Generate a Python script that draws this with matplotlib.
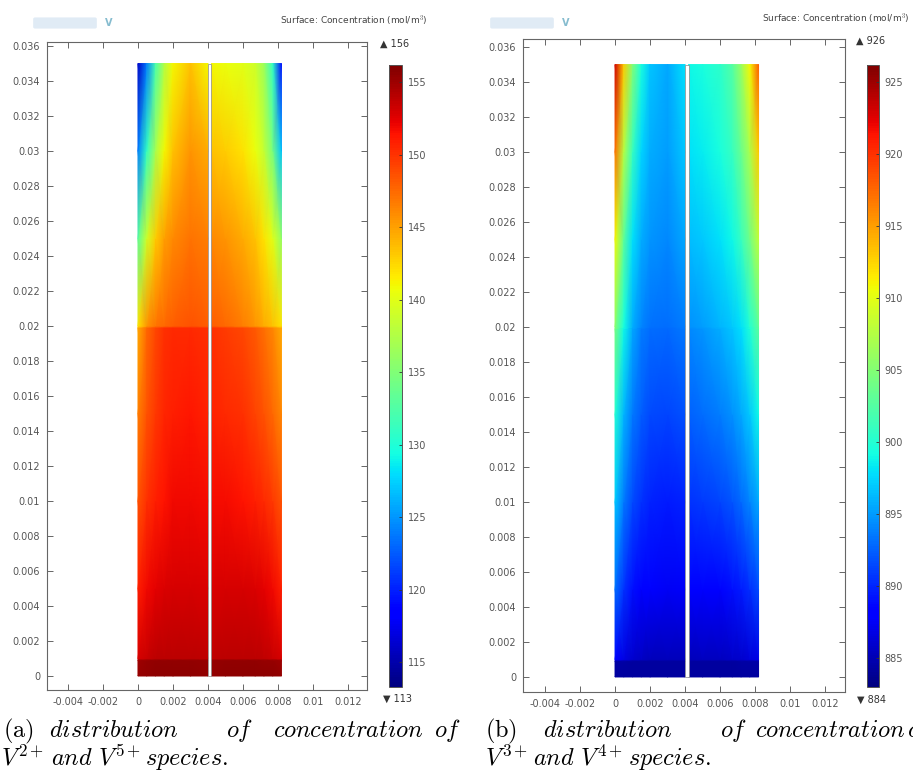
import numpy as np
import matplotlib.pyplot as plt
from matplotlib.colors import Normalize
from matplotlib.patches import Rectangle, FancyBboxPatch
from matplotlib.ticker import FixedLocator, FuncFormatter

plt.rcParams['mathtext.fontset'] = 'cm'

# node positions of the two channels (m), membrane between them
x_left_ch = [0.0, 0.0005, 0.001, 0.0015, 0.002, 0.003, 0.004]
x_right_ch = [0.0042, 0.005, 0.006, 0.0067, 0.0072, 0.0077, 0.0082]
y_nodes = [0.0, 0.0009, 0.001, 0.005, 0.01, 0.015, 0.0199, 0.02, 0.025, 0.03, 0.035]

# (a) V2+ / V5+ concentration, rows follow y_nodes (bottom -> top)
conc_a_left = [
    [155.3, 155.5, 155.6, 155.6, 155.6, 155.6, 155.4],
    [155.0, 155.2, 155.4, 155.4, 155.4, 155.4, 155.2],
    [153.0, 153.5, 154.0, 154.0, 154.0, 154.0, 153.8],
    [151.0, 152.0, 152.5, 152.8, 153.0, 153.0, 152.8],
    [148.5, 150.0, 151.0, 151.5, 152.0, 152.0, 151.8],
    [146.5, 148.5, 149.8, 150.6, 151.0, 151.2, 150.8],
    [144.5, 147.5, 149.0, 150.0, 150.5, 150.5, 150.0],
    [142.0, 145.5, 147.0, 147.5, 148.0, 148.5, 148.0],
    [133.0, 139.0, 143.0, 145.0, 146.0, 147.0, 146.5],
    [124.0, 131.0, 137.0, 141.0, 143.5, 145.5, 144.5],
    [116.0, 124.0, 132.0, 137.5, 141.0, 143.5, 141.0],
]
conc_a_right = [
    [155.4, 155.6, 155.6, 155.6, 155.6, 155.6, 155.5],
    [155.2, 155.4, 155.4, 155.4, 155.3, 155.2, 155.0],
    [153.8, 154.0, 154.0, 154.0, 153.8, 153.5, 153.0],
    [152.8, 153.0, 153.0, 152.8, 152.5, 152.0, 151.0],
    [151.8, 151.8, 151.5, 151.0, 150.5, 149.8, 148.5],
    [150.8, 150.5, 150.0, 149.3, 148.6, 147.6, 146.3],
    [150.0, 149.5, 149.0, 148.2, 147.3, 146.2, 144.5],
    [148.0, 147.5, 146.5, 145.5, 144.5, 143.5, 142.0],
    [146.0, 145.5, 144.5, 143.5, 142.0, 140.0, 136.0],
    [143.5, 143.0, 142.0, 140.5, 138.5, 134.5, 127.0],
    [141.0, 140.5, 140.0, 139.0, 136.5, 131.0, 119.0],
]

# (b) V3+ / V4+ concentration
conc_b_left = [
    [884.2, 884.2, 884.2, 884.2, 884.2, 884.2, 884.2],
    [884.5, 884.4, 884.3, 884.3, 884.3, 884.3, 884.3],
    [888.0, 886.8, 886.0, 885.6, 885.3, 885.2, 885.3],
    [893.0, 890.5, 889.0, 888.3, 887.8, 887.5, 887.7],
    [897.0, 893.5, 891.5, 890.5, 889.8, 889.5, 889.8],
    [900.0, 896.0, 893.5, 892.3, 891.6, 891.3, 891.8],
    [904.5, 899.0, 895.5, 893.8, 893.0, 892.8, 893.5],
    [905.0, 899.3, 895.7, 894.0, 893.2, 893.0, 893.7],
    [911.0, 903.0, 898.0, 895.8, 894.7, 894.2, 895.5],
    [917.0, 907.5, 901.0, 897.5, 895.8, 895.0, 897.0],
    [923.0, 913.0, 905.0, 899.5, 896.8, 895.5, 898.0],
]
conc_b_right = [
    [884.2, 884.2, 884.2, 884.2, 884.2, 884.2, 884.2],
    [884.3, 884.3, 884.3, 884.3, 884.4, 884.5, 884.6],
    [885.3, 885.4, 885.5, 885.7, 886.0, 886.5, 887.0],
    [888.0, 888.2, 888.5, 889.0, 889.5, 890.3, 891.5],
    [890.5, 890.8, 891.3, 892.0, 892.8, 894.0, 895.5],
    [892.5, 893.0, 893.8, 894.5, 895.5, 897.0, 899.0],
    [894.3, 894.8, 895.8, 896.8, 897.8, 899.8, 902.8],
    [894.5, 895.0, 896.0, 897.0, 898.0, 900.0, 903.0],
    [896.5, 897.0, 898.0, 899.0, 901.0, 904.0, 908.0],
    [898.0, 898.5, 899.5, 901.0, 903.5, 907.0, 913.0],
    [899.0, 899.5, 900.5, 902.5, 906.0, 911.0, 918.0],
]

range_a = (113.3, 156.2)
range_b = (883.0, 926.2)
cbar_ticks_a = [115, 120, 125, 130, 135, 140, 145, 150, 155]
cbar_ticks_b = [885, 890, 895, 900, 905, 910, 915, 920, 925]
max_min_a = ('156', '113')
max_min_b = ('926', '884')

x_ticks = [-0.004, -0.002, 0.0, 0.002, 0.004, 0.006, 0.008, 0.01, 0.012]
y_ticks = [0.0, 0.002, 0.004, 0.006, 0.008, 0.01, 0.012, 0.014, 0.016, 0.018,
           0.02, 0.022, 0.024, 0.026, 0.028, 0.03, 0.032, 0.034, 0.036]

caption_a = [
    [(3, 737, r'$\mathrm{(a)}$'), (49, 737, r'$\mathit{distribution}$'),
     (226, 737, r'$\mathit{of}$'), (273, 737, r'$\mathit{concentration}$'),
     (434, 737, r'$\mathit{of}$')],
    [(1, 765, r'$V^{2+}$'), (51, 765, r'$\mathit{and}\ V^{5+}$'),
     (145, 765, r'$\mathit{species.}$')],
]
caption_b = [
    [(485, 737, r'$\mathrm{(b)}$'), (543, 737, r'$\mathit{distribution}$'),
     (720, 737, r'$\mathit{of}$'), (755, 737, r'$\mathit{concentration}$'),
     (907, 737, r'$\mathit{of}$')],
    [(485, 765, r'$V^{3+}$'), (533, 765, r'$\mathit{and}\ V^{4+}$'),
     (628, 765, r'$\mathit{species.}$')],
]

W, H = 913, 780
fig = plt.figure(figsize=(W / 100, H / 100), dpi=100)


def px_rect(x0, y0, x1, y1):
    return [x0 / W, 1 - y1 / H, (x1 - x0) / W, (y1 - y0) / H]


tick_grey = '#555555'


def draw_panel(ax_box, cb_box, xlim, ylim, left, right, vrange, cticks,
               maxmin, title_xy, maxmin_xy, smear_x):
    ax = fig.add_axes(px_rect(*ax_box))
    norm = Normalize(*vrange)
    X, Y = np.meshgrid(x_left_ch, y_nodes)
    m = ax.pcolormesh(X, Y, np.array(left), shading='gouraud', cmap='jet', norm=norm)
    X, Y = np.meshgrid(x_right_ch, y_nodes)
    ax.pcolormesh(X, Y, np.array(right), shading='gouraud', cmap='jet', norm=norm)
    # membrane
    ax.add_patch(Rectangle((x_left_ch[-1], 0), x_right_ch[0] - x_left_ch[-1],
                           y_nodes[-1], facecolor='white', edgecolor='#888888', lw=0.5))
    ax.set_xlim(*xlim)
    ax.set_ylim(*ylim)
    ax.xaxis.set_major_locator(FixedLocator(x_ticks))
    ax.yaxis.set_major_locator(FixedLocator(y_ticks))
    fmt = FuncFormatter(lambda v, p: '%g' % round(v, 4))
    ax.xaxis.set_major_formatter(fmt)
    ax.yaxis.set_major_formatter(fmt)
    ax.tick_params(direction='in', length=4, width=0.7, top=True, right=True,
                   labelsize=7, labelcolor=tick_grey, color='#666666', pad=5)
    for s in ax.spines.values():
        s.set_color('#666666')
        s.set_linewidth(0.8)

    cax = fig.add_axes(px_rect(*cb_box))
    cb = fig.colorbar(m, cax=cax)
    cb.set_ticks(cticks)
    cb.outline.set_edgecolor('#555555')
    cb.outline.set_linewidth(0.7)
    cax.tick_params(length=2, width=0.6, direction='in', labelsize=7,
                    labelcolor=tick_grey, color='#333333', pad=4)

    fig.text(title_xy[0] / W, 1 - title_xy[1] / H,
             'Surface: Concentration (mol/m$^3$)', fontsize=6.5,
             color='#444444', ha='right', va='center')
    fig.text(maxmin_xy[0] / W, 1 - maxmin_xy[1] / H, '\u25b2 ' + maxmin[0],
             fontsize=7, color='#333333', ha='left', va='center')
    fig.text(maxmin_xy[2] / W, 1 - maxmin_xy[3] / H, '\u25bc ' + maxmin[1],
             fontsize=7, color='#333333', ha='left', va='center')
    # faded plot-group label in the header
    fig.patches.append(FancyBboxPatch(((smear_x) / W, 1 - 27 / H), 60 / W, 8 / H,
                                      boxstyle='round,pad=0.002', transform=fig.transFigure,
                                      facecolor='#dde9f4', edgecolor='none', alpha=0.9))
    fig.text((smear_x + 70) / W, 1 - 23 / H, 'V', fontsize=7, fontweight='bold',
             color='#86bccf', ha='left', va='center')


draw_panel((47, 42, 367, 690), (389, 65, 402, 687), (-0.0052, 0.01309),
           (-0.0008, 0.03623), conc_a_left, conc_a_right, range_a, cbar_ticks_a,
           max_min_a, (428, 21), (380, 44, 383, 699), 35)
draw_panel((523, 39, 845, 692), (867, 65, 879, 687), (-0.00526, 0.01314),
           (-0.00086, 0.03646), conc_b_left, conc_b_right, range_b, cbar_ticks_b,
           max_min_b, (910, 19), (856, 41, 857, 700), 492)

for cap in (caption_a, caption_b):
    for line in cap:
        for x, y, s in line:
            fig.text(x / W, 1 - y / H, s, fontsize=17.5, ha='left', va='baseline',
                     color='black')

fig.savefig('out.png', dpi=100)
